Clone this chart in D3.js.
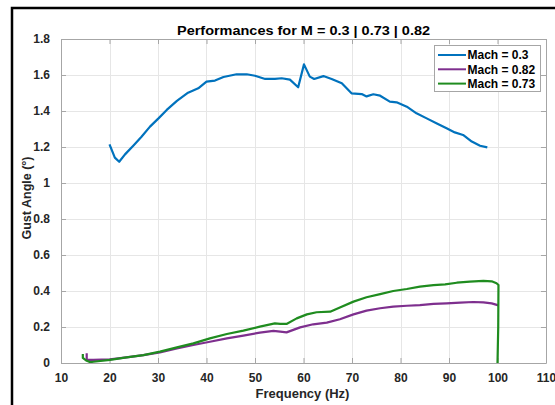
<!DOCTYPE html>
<html>
<head>
<meta charset="utf-8">
<script src="https://cdn.jsdelivr.net/npm/d3@7"></script>
<style>
  html, body { margin: 0; padding: 0; background: #fff; }
  svg { display: block; }
  text { font-family: "Liberation Sans", Arial, Helvetica, sans-serif; font-weight: bold; }
</style>
</head>
<body>
<svg id="chart" width="555" height="405"></svg>
<script>
// ---- data ----
const xTicks = [10, 20, 30, 40, 50, 60, 70, 80, 90, 100, 110];
const yTicks = [0, 0.2, 0.4, 0.6, 0.8, 1, 1.2, 1.4, 1.6, 1.8];

const seriesNames = ["Mach = 0.3", "Mach = 0.82", "Mach = 0.73"];

const freqM03 = [20, 21.1, 22.0, 23.2, 24.9, 26.6, 28.35, 30.1, 31.8, 33.9, 36.2, 38.3, 40.0, 41.75, 43.5, 46.2, 48.3, 50.0, 52.1, 54.1, 55.5, 57.2, 58.9, 60.1, 61.3, 62.2, 64.1, 65.8, 67.9, 69.9, 72.0, 73.0, 74.4, 75.8, 77.8, 79.2, 81.3, 83.3, 85.4, 87.5, 89.5, 91.2, 92.9, 94.7, 96.4, 97.9];
const angleM03 = [1.215, 1.141, 1.118, 1.159, 1.207, 1.257, 1.313, 1.359, 1.406, 1.456, 1.502, 1.526, 1.563, 1.569, 1.589, 1.604, 1.604, 1.596, 1.578, 1.578, 1.582, 1.574, 1.532, 1.659, 1.591, 1.578, 1.594, 1.578, 1.554, 1.498, 1.494, 1.481, 1.493, 1.485, 1.452, 1.448, 1.424, 1.387, 1.359, 1.331, 1.304, 1.281, 1.267, 1.230, 1.207, 1.198];

const freqM082 = [15.3, 15.3, 16.7, 20.1, 23.5, 27.0, 30.4, 33.9, 37.3, 40.7, 44.2, 47.6, 51.0, 53.8, 55.2, 56.5, 59.3, 62.0, 64.8, 67.5, 70.3, 73.0, 75.8, 78.5, 81.3, 84.0, 86.8, 89.5, 92.3, 95.0, 97.1, 98.8, 100.2];
const angleM082 = [0.054, 0.017, 0.017, 0.02, 0.031, 0.044, 0.059, 0.081, 0.1, 0.118, 0.137, 0.152, 0.169, 0.178, 0.174, 0.170, 0.198, 0.215, 0.224, 0.243, 0.27, 0.291, 0.304, 0.313, 0.318, 0.322, 0.328, 0.331, 0.335, 0.339, 0.337, 0.331, 0.32];

const freqM073 = [14.5, 14.5, 15.3, 16.0, 16.7, 20.1, 23.5, 27.0, 30.4, 33.9, 37.3, 40.7, 44.2, 47.6, 51.0, 54.1, 55.2, 56.5, 58.6, 60.7, 62.7, 65.5, 67.5, 70.3, 73.0, 75.8, 78.5, 81.3, 84.0, 86.8, 89.2, 91.6, 94.3, 97.1, 98.8, 99.8, 100.2, 100.15, 100.0];
const angleM073 = [0.05, 0.028, 0.012, 0.005, 0.007, 0.017, 0.031, 0.044, 0.063, 0.087, 0.109, 0.137, 0.161, 0.180, 0.202, 0.22, 0.217, 0.217, 0.248, 0.27, 0.282, 0.285, 0.309, 0.341, 0.365, 0.383, 0.4, 0.411, 0.424, 0.433, 0.437, 0.446, 0.452, 0.456, 0.454, 0.443, 0.433, 0.2, 0.0];

// ---- drawing ----
const colors = ["#0072BD", "#7E2F8E", "#1f8c1f"];
const series = [
  { name: seriesNames[0], f: freqM03, v: angleM03, color: colors[0] },
  { name: seriesNames[1], f: freqM082, v: angleM082, color: colors[1] },
  { name: seriesNames[2], f: freqM073, v: angleM073, color: colors[2] }
];

const svg = d3.select("#chart");
const L = 61, R = 546, T = 39, B = 363;
const x = d3.scaleLinear().domain([10, 110]).range([L, R]);
const y = d3.scaleLinear().domain([0, 1.8]).range([B, T]);

// outer black frame
svg.append("rect").attr("x", 12).attr("y", 8).attr("width", 600).attr("height", 450)
  .attr("fill", "none").attr("stroke", "#000").attr("stroke-width", 2.5);

// plot background
svg.append("rect").attr("x", L).attr("y", T).attr("width", R - L).attr("height", B - T).attr("fill", "#fff");

// grid
const grid = svg.append("g").attr("stroke", "#e6e6e6").attr("stroke-width", 1);
xTicks.forEach(t => grid.append("line").attr("x1", Math.round(x(t)) + 0.5).attr("x2", Math.round(x(t)) + 0.5).attr("y1", T).attr("y2", B));
yTicks.forEach(t => grid.append("line").attr("y1", Math.round(y(t)) + 0.5).attr("y2", Math.round(y(t)) + 0.5).attr("x1", L).attr("x2", R));

// axes
const axisColor = "#a6a6a6";
const tickLen = 5;
const xAxisB = d3.axisBottom(x).tickValues(xTicks).tickSizeInner(-tickLen).tickSizeOuter(0).tickPadding(10).tickFormat(d3.format("d"));
const xAxisT = d3.axisTop(x).tickValues(xTicks).tickSizeInner(-tickLen).tickSizeOuter(0).tickFormat("");
const yAxisL = d3.axisLeft(y).tickValues(yTicks).tickSizeInner(-tickLen).tickSizeOuter(0).tickPadding(11).tickFormat(d => d3.format("~g")(+d.toFixed(1)));
const yAxisR = d3.axisRight(y).tickValues(yTicks).tickSizeInner(-tickLen).tickSizeOuter(0).tickFormat("");

function styleAxis(g) {
  g.select(".domain").attr("stroke", axisColor);
  g.selectAll(".tick line").attr("stroke", axisColor);
  g.selectAll(".tick text").attr("fill", "#262626").style("font-size", "12px").style("font-family", "'Liberation Sans', Arial, sans-serif").style("font-weight", "bold");
}
svg.append("g").attr("transform", `translate(0,${B})`).call(xAxisB).call(styleAxis);
svg.append("g").attr("transform", `translate(0,${T})`).call(xAxisT).call(styleAxis);
svg.append("g").attr("transform", `translate(${L},0)`).call(yAxisL).call(styleAxis);
svg.append("g").attr("transform", `translate(${R},0)`).call(yAxisR).call(styleAxis);

// lines
const line = d3.line().x(d => x(d[0])).y(d => y(d[1]));
const clip = svg.append("clipPath").attr("id", "clip").append("rect").attr("x", L).attr("y", T - 2).attr("width", R - L).attr("height", B - T + 2);
series.forEach(s => {
  const pts = s.f.map((f, i) => [f, s.v[i]]);
  svg.append("path").datum(pts).attr("d", line).attr("fill", "none")
    .attr("stroke", s.color).attr("stroke-width", 2.2).attr("stroke-linejoin", "round")
    .attr("clip-path", "url(#clip)");
});

// title & labels
svg.append("text").attr("x", (L + R) / 2).attr("y", 34.5).attr("text-anchor", "middle")
  .style("font-size", "13.5px").attr("fill", "#000")
  .attr("textLength", 253).attr("lengthAdjust", "spacingAndGlyphs")
  .text("Performances for M = 0.3 | 0.73 | 0.82");
svg.append("text").attr("x", (L + R) / 2 - 1).attr("y", 398).attr("text-anchor", "middle")
  .style("font-size", "13px").attr("fill", "#262626").text("Frequency (Hz)");
svg.append("text").attr("transform", "translate(31,198) rotate(-90)").attr("text-anchor", "middle")
  .style("font-size", "12.5px").attr("fill", "#262626").text("Gust Angle (°)");

// legend
const lg = svg.append("g");
lg.append("rect").attr("x", 434.5).attr("y", 45.5).attr("width", 106).attr("height", 46)
  .attr("fill", "#fff").attr("stroke", "#a6a6a6").attr("stroke-width", 1);
series.forEach((s, i) => {
  const cy = 55 + i * 14.3;
  lg.append("line").attr("x1", 438).attr("x2", 466).attr("y1", cy).attr("y2", cy)
    .attr("stroke", s.color).attr("stroke-width", 2);
  lg.append("text").attr("x", 467.5).attr("y", cy + 4.3).style("font-size", "12px")
    .attr("fill", "#000").text(s.name);
});
</script>
</body>
</html>
